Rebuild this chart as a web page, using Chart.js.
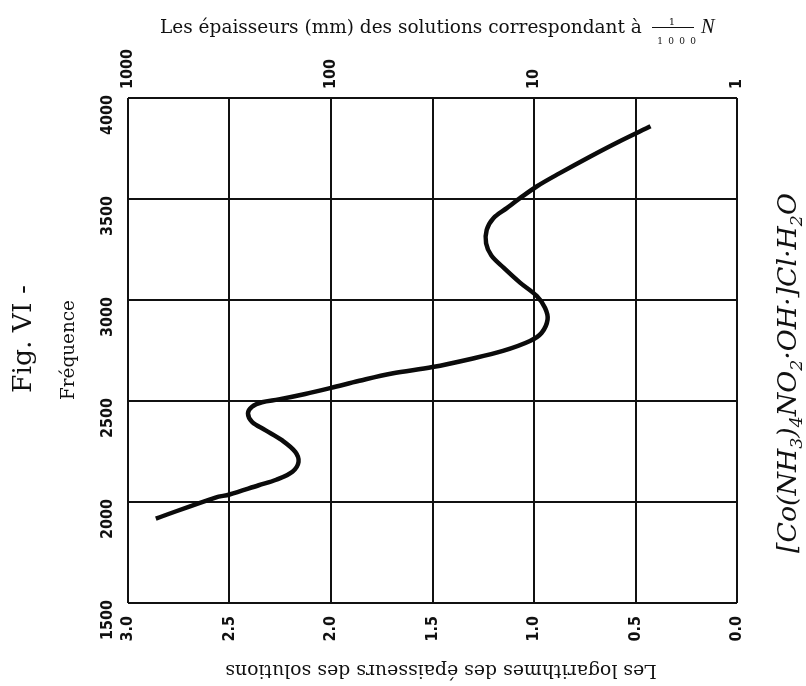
<!DOCTYPE html>
<html><head><meta charset="utf-8">
<script src="https://cdn.jsdelivr.net/npm/chart.js@4/dist/chart.umd.min.js"></script>
<style>html,body{margin:0;padding:0;background:#fff;}canvas{display:block;}</style>
</head><body>
<canvas id="c" width="806" height="686"></canvas>
<script>
// ---- data ----
const logThickness = [2.863, 2.569, 2.50, 2.356, 2.27, 2.19, 2.160, 2.176, 2.242, 2.324, 2.389, 2.409, 2.389, 2.34, 2.258, 2.127, 2.00, 1.86, 1.70, 1.50, 1.317, 1.153, 1.02, 0.962, 0.933, 0.946, 0.987, 1.069, 1.15, 1.21, 1.236, 1.233, 1.20, 1.134, 1.069, 0.987, 0.873, 0.72, 0.58, 0.426];
const frequency    = [1918, 2022, 2037, 2083, 2110, 2150, 2198, 2248, 2306, 2356, 2397, 2439, 2472, 2494, 2508, 2535, 2565, 2600, 2636, 2668, 2707, 2748, 2797, 2838, 2904, 2962, 3020, 3086, 3160, 3220, 3280, 3347, 3405, 3455, 3504, 3562, 3628, 3712, 3785, 3860];
const xTickValues = [3.0, 2.5, 2.0, 1.5, 1.0, 0.5, 0.0];
const yTickValues = [1500, 2000, 2500, 3000, 3500, 4000];
const topTickValues = [3, 2, 1, 0];
const topTickLabels = ['1000', '100', '10', '1'];

const titleText = 'Les épaisseurs (mm) des solutions correspondant à';
const bottomTitle = 'Les logarithmes des épaisseurs des solutions';
const figLabel = 'Fig. VI -';
const yTitle = 'Fréquence';
const formula = [['[Co(NH',0],['3',1],[')',0],['4',1],['NO',0],['2',1],['·OH·]Cl·H',0],['2',1],['O',0]];

const points = logThickness.map((v, i) => ({x: v, y: frequency[i]}));

const INK = '#111';
const tickFont = {family: "'Liberation Sans Narrow','DejaVu Sans Condensed',sans-serif", weight: 'bold', size: 16};
const SERIF = "'DejaVu Serif','Liberation Serif',serif";
const ISERIF = "'Liberation Serif','DejaVu Serif',serif";

function fitSize(ctx, text, style, family, target) {
  ctx.font = `${style} 20px ${family}`;
  return 20 * target / ctx.measureText(text).width;
}

const textPlugin = {
  id: 'texts',
  afterDraw(chart) {
    const ctx = chart.ctx;
    ctx.save();
    ctx.fillStyle = INK;
    ctx.strokeStyle = INK;
    // top title
    let s = fitSize(ctx, titleText, 'normal', SERIF, 482);
    ctx.font = `normal ${s}px ${SERIF}`;
    ctx.textAlign = 'left'; ctx.textBaseline = 'alphabetic';
    ctx.fillText(titleText, 160, 33);
    // fraction 1/1000
    ctx.lineWidth = 1;
    ctx.beginPath(); ctx.moveTo(652, 27.5); ctx.lineTo(694, 27.5); ctx.stroke();
    ctx.font = `normal 10px ${SERIF}`;
    ctx.textAlign = 'center';
    ctx.fillText('1', 672, 25);
    ctx.font = `normal 9px ${SERIF}`;
    ['1','0','0','0'].forEach((d, i) => ctx.fillText(d, 660 + i * 11, 44));
    ctx.font = `italic ${s * 1.1}px ${ISERIF}`;
    ctx.textAlign = 'left';
    ctx.fillText('N', 701, 33);

    function rot(text, cx, cy, angle, font) {
      ctx.save(); ctx.translate(cx, cy); ctx.rotate(angle);
      ctx.font = font; ctx.textAlign = 'center'; ctx.textBaseline = 'middle';
      ctx.fillText(text, 0, 0); ctx.restore();
    }
    let fs = fitSize(ctx, figLabel, 'normal', SERIF, 108);
    rot(figLabel, 24, 339, -Math.PI / 2, `normal ${fs}px ${SERIF}`);
    fs = fitSize(ctx, yTitle, 'normal', SERIF, 100);
    rot(yTitle, 69, 350, -Math.PI / 2, `normal ${fs}px ${SERIF}`);
    fs = fitSize(ctx, bottomTitle, 'normal', SERIF, 432);
    rot(bottomTitle, 441, 670, Math.PI, `normal ${fs}px ${SERIF}`);

    // right formula
    const base = 20, sub = 13;
    let total = 0;
    formula.forEach(([t, isSub]) => { ctx.font = `italic ${isSub ? sub : base}px ${SERIF}`; total += ctx.measureText(t).width; });
    const k = 360 / total;
    ctx.save();
    ctx.translate(787, 373); ctx.rotate(-Math.PI / 2);
    ctx.textAlign = 'left'; ctx.textBaseline = 'alphabetic';
    let xx = -180;
    const bsz = base * k, ssz = sub * k;
    formula.forEach(([t, isSub]) => {
      ctx.font = `italic ${isSub ? ssz : bsz}px ${SERIF}`;
      ctx.fillText(t, xx, isSub ? bsz * 0.35 + bsz * 0.22 : bsz * 0.35);
      xx += ctx.measureText(t).width;
    });
    ctx.restore();
    ctx.restore();
  }
};

new Chart(document.getElementById('c'), {
  type: 'scatter',
  data: {datasets: [{
    data: points, showLine: true, borderColor: '#0b0b0b', borderWidth: 4.5,
    pointRadius: 0, tension: 0.35, fill: false
  }]},
  options: {
    responsive: false, animation: false, devicePixelRatio: 1,
    layout: {padding: {left: 0, right: 69, top: 0, bottom: 0}},
    plugins: {legend: {display: false}, tooltip: {enabled: false}},
    scales: {
      x: {
        type: 'linear', position: 'bottom', min: 0, max: 3, reverse: true,
        afterBuildTicks: s => { s.ticks = xTickValues.map(v => ({value: v})); },
        afterFit: s => { s.height = 83; },
        grid: {color: INK, lineWidth: 2, drawTicks: false},
        border: {display: false},
        ticks: {font: tickFont, color: INK, minRotation: 90, maxRotation: 90, padding: 13,
                callback: v => Number(v).toFixed(1)}
      },
      x2: {
        type: 'linear', position: 'top', min: 0, max: 3, reverse: true,
        afterBuildTicks: s => { s.ticks = topTickValues.map(v => ({value: v})); },
        afterFit: s => { s.height = 98; },
        grid: {display: false, drawTicks: false},
        border: {display: false},
        ticks: {font: tickFont, color: INK, minRotation: 90, maxRotation: 90, padding: 9, labelOffset: 19,
                callback: (v) => topTickLabels[topTickValues.indexOf(Number(v))]}
      },
      y: {
        type: 'linear', position: 'left', min: 1500, max: 4000,
        afterBuildTicks: s => { s.ticks = yTickValues.map(v => ({value: v})); },
        afterFit: s => { s.width = 128; },
        grid: {color: INK, lineWidth: 2, drawTicks: false},
        border: {display: false},
        ticks: {font: tickFont, color: INK, minRotation: 90, maxRotation: 90, padding: 20, labelOffset: -3,
                callback: v => String(v)}
      }
    }
  },
  plugins: [textPlugin]
});
</script>
</body></html>
